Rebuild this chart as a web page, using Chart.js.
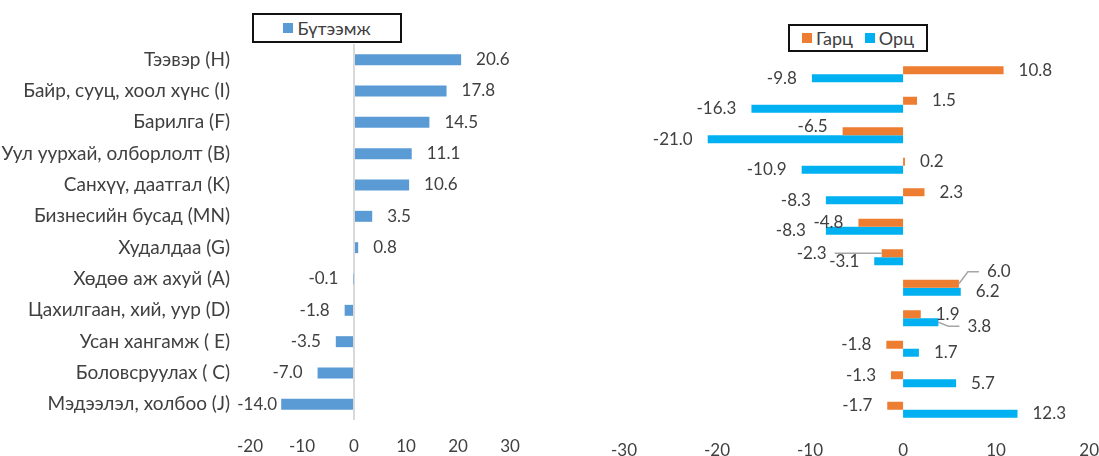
<!DOCTYPE html>
<html>
<head>
<meta charset="utf-8">
<script src="https://cdn.jsdelivr.net/npm/chart.js@4"></script>
<style>
  body { margin: 0; background: #fff; width: 1099px; height: 456px; overflow: hidden; position: relative; font-family: Lato, "Noto Sans", sans-serif; }
  canvas { position: absolute; top: 0; }
  #leftChart { left: 0; }
  #rightChart { left: 570px; }
  .legend { position: absolute; box-sizing: border-box; border: 2px solid #111; display: flex; align-items: center; justify-content: center; font-size: 18px; color: #404040; background: #fff; }
  .legend span.sw { display: inline-block; width: 10px; height: 10px; margin-right: 4px; }
  .legend span.item { display: inline-flex; align-items: center; margin: 0 6px; }
</style>
</head>
<body>
<canvas id="leftChart" width="570" height="456"></canvas>
<canvas id="rightChart" width="544" height="456"></canvas>
<div class="legend" style="left:252px;top:13px;width:150px;height:30px;">
  <span class="item"><span class="sw" style="background:#5B9BD5"></span>Бүтээмж</span>
</div>
<div class="legend" style="left:788px;top:24px;width:140px;height:28px;">
  <span class="item"><span class="sw" style="background:#ED7D31"></span>Гарц</span>
  <span class="item"><span class="sw" style="background:#00B0F0"></span>Орц</span>
</div>
<script>
// sectors, top to bottom
const sectors = ['Тээвэр (H)', 'Байр, сууц, хоол хүнс (I)', 'Барилга (F)', 'Уул уурхай, олборлолт (B)',
  'Санхүү, даатгал (K)', 'Бизнесийн бусад (MN)', 'Худалдаа (G)', 'Хөдөө аж ахуй (A)',
  'Цахилгаан, хий, уур (D)', 'Усан хангамж ( E)', 'Боловсруулах ( C)', 'Мэдээлэл, холбоо (J)'];
const productivity = [20.6, 17.8, 14.5, 11.1, 10.6, 3.5, 0.8, -0.1, -1.8, -3.5, -7.0, -14.0];
const output = [10.8, 1.5, -6.5, 0.2, 2.3, -4.8, -2.3, 6.0, 1.9, -1.8, -1.3, -1.7];
const input = [-9.8, -16.3, -21.0, -10.9, -8.3, -8.3, -3.1, 6.2, 3.8, 1.7, 5.7, 12.3];
const leftTicks = { min: -20, max: 30, step: 10 };
const rightTicks = { min: -30, max: 20, step: 10 };

const FONT = 'Lato, "Noto Sans", sans-serif';
const TEXT = '#404040';

// labels that were moved by hand in the original (dataset, index)
const leftNudges = [{ ds: 0, i: 11, dx: 11, dy: 0 }];
const rightNudges = [
  { ds: 0, i: 2, dx: 0, dy: -5 },
  { ds: 0, i: 6, dx: -40, dy: 0, leader: true },
  { ds: 0, i: 7, dx: 13, dy: -12, leader: true },
  { ds: 1, i: 5, dx: -5, dy: 0 },
  { ds: 1, i: 8, dx: 14, dy: 4, leader: true }
];

const valueLabels = {
  id: 'valueLabels',
  afterDatasetsDraw(chart, args, opts) {
    const ctx = chart.ctx;
    ctx.save();
    ctx.font = '17px ' + FONT;
    ctx.textBaseline = 'middle';
    chart.data.datasets.forEach((ds, di) => {
      chart.getDatasetMeta(di).data.forEach((bar, i) => {
        const v = ds.data[i];
        const n = (opts.nudges || []).find(m => m.ds === di && m.i === i) || {};
        const sign = v < 0 ? -1 : 1;
        const x = bar.x + sign * 15 + (n.dx || 0);
        const y = bar.y + (n.dy || 0);
        if (n.leader) {
          ctx.strokeStyle = '#a6a6a6';
          ctx.lineWidth = 1.5;
          ctx.beginPath();
          ctx.moveTo(bar.x, bar.y);
          ctx.lineTo(x - sign * 19, y);
          ctx.lineTo(x - sign * 8, y);
          ctx.stroke();
        }
        ctx.fillStyle = TEXT;
        ctx.textAlign = v < 0 ? 'right' : 'left';
        ctx.fillText(v.toFixed(1), x, y);
      });
    });
    ctx.restore();
  }
};

Chart.defaults.font.family = FONT;
Chart.defaults.font.size = 17;
Chart.defaults.color = TEXT;

new Chart(document.getElementById('leftChart').getContext('2d'), {
  type: 'bar',
  data: {
    labels: sectors,
    datasets: [{ label: 'Бүтээмж', data: productivity, backgroundColor: '#5B9BD5',
      categoryPercentage: 1, barPercentage: 0.35 }]
  },
  options: {
    indexAxis: 'y',
    responsive: false,
    animation: false,
    layout: { padding: { top: 44, right: 60, left: 0, bottom: 0 } },
    plugins: { legend: { display: false }, tooltip: { enabled: false }, valueLabels: { nudges: leftNudges } },
    scales: {
      x: {
        min: leftTicks.min, max: leftTicks.max,
        ticks: { stepSize: leftTicks.step, padding: 16, maxRotation: 0 },
        grid: { drawTicks: false, lineWidth: 2, color: c => c.tick && c.tick.value === 0 ? '#d9d9d9' : 'rgba(0,0,0,0)' },
        border: { display: false },
        afterFit: s => { s.height = 36; }
      },
      y: {
        ticks: { padding: 20, autoSkip: false, font: { size: 19 } },
        grid: { display: false, drawTicks: false },
        border: { display: false },
        afterFit: s => { s.width = 250; }
      }
    }
  },
  plugins: [valueLabels]
});

new Chart(document.getElementById('rightChart').getContext('2d'), {
  type: 'bar',
  data: {
    labels: sectors,
    datasets: [
      { label: 'Гарц', data: output, backgroundColor: '#ED7D31', categoryPercentage: 0.52, barPercentage: 1 },
      { label: 'Орц', data: input, backgroundColor: '#00B0F0', categoryPercentage: 0.52, barPercentage: 1 }
    ]
  },
  options: {
    indexAxis: 'y',
    responsive: false,
    animation: false,
    layout: { padding: { top: 59, right: 9, left: 54, bottom: 0 } },
    plugins: { legend: { display: false }, tooltip: { enabled: false }, valueLabels: { nudges: rightNudges } },
    scales: {
      x: {
        min: rightTicks.min, max: rightTicks.max,
        ticks: { stepSize: rightTicks.step, padding: 15, maxRotation: 0 },
        grid: { display: false, drawTicks: false },
        border: { display: false },
        afterFit: s => { s.height = 31; }
      },
      y: { display: false }
    }
  },
  plugins: [valueLabels]
});
</script>
</body>
</html>
